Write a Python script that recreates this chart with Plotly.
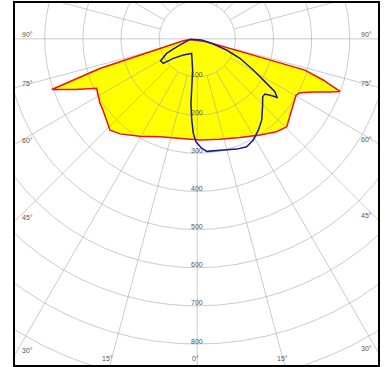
import numpy as np
import plotly.graph_objects as go

# ---- data: luminous intensity (cd) vs angle gamma (deg, 0 = straight down, + = right)
red_deg = [-84, -82.3, -74.7, -73.1, -70.8, -67.5, -63.8, -59.7, -56.6, -52.9, -48.1, -43.7,
           -39.1, -30.5, -20.9, -9.9, 1.5, 12.7, 23.4, 33.1, 40.5, 45.5, 50, 53, 58, 60.3,
           62.3, 65.4, 68.2, 69.8, 71.9, 73.8, 73.8, 72.9]
red_cd = [19, 37, 128, 267, 404, 347, 294, 301, 306, 310, 319, 331,
          321, 296, 275, 265, 265, 270, 282, 301, 320, 329, 317, 310, 302, 298,
          304, 335, 375, 399, 347, 294, 162, 26]

blue_deg = [-86.1, -69, -64.6, -59.1, -54.2, -50.9, -40.8, -21.1, -8.4, -6.7, -5.6, -3.9,
            -2.4, -0.7, 2.3, 4.8, 11.5, 19.7, 24.6, 29, 33.8, 38.4, 43.9, 48.5, 50.8, 53,
            53.6, 55.8, 57.3, 60.9, 65.5, 69.1, 72, 74.7, -86.1]
blue_cd = [19, 58, 89, 112, 110, 81, 56, 41, 83, 126, 170, 213,
           248, 270, 287, 296, 299, 307, 311, 303, 288, 272, 247, 229, 229, 249,
           261, 246, 216, 168, 123, 82, 44, 12, 19]

ring_values = [100, 200, 300, 400, 500, 600, 700, 800, 900]
ring_labels = ["100", "200", "300", "400", "500", "600", "700", "800"]
spoke_step = 15
side_angles = [90, 75, 60, 45, 30]
bottom_angles = [-15, 0, 15]

X_RANGE = [-478, 474]
Y_RANGE = [-855, 94]


def to_xy(deg, cd):
    g = np.radians(np.asarray(deg, dtype=float))
    r = np.asarray(cd, dtype=float)
    return r * np.sin(g), -r * np.cos(g)


fig = go.Figure()

# yellow fill of red curve
rx, ry = to_xy(red_deg, red_cd)
fig.add_trace(go.Scatter(x=np.append(rx, rx[0]), y=np.append(ry, ry[0]), mode="lines",
                         fill="toself", fillcolor="#FFFF00",
                         line=dict(width=0, color="rgba(0,0,0,0)"), hoverinfo="skip"))

# grid rings
t = np.linspace(0, 360, 721)
gx, gy = [], []
for rv in ring_values:
    cx, cy = to_xy(t, np.full_like(t, rv))
    gx += list(cx) + [None]
    gy += list(cy) + [None]
# spokes
for a in range(0, 360, spoke_step):
    r0 = 0 if a in (90, 270) else ring_values[0]
    sx, sy = to_xy([a, a], [r0, 1200])
    gx += list(sx) + [None]
    gy += list(sy) + [None]
fig.add_trace(go.Scatter(x=gx, y=gy, mode="lines",
                         line=dict(color="rgba(160,160,160,0.55)", width=1), hoverinfo="skip"))

# red outline
fig.add_trace(go.Scatter(x=np.append(rx, rx[0]), y=np.append(ry, ry[0]), mode="lines",
                         line=dict(color="#EE1111", width=1.5), hoverinfo="skip"))
# blue curve
bx, by = to_xy(blue_deg, blue_cd)
fig.add_trace(go.Scatter(x=bx, y=by, mode="lines",
                         line=dict(color="#1A1A9A", width=1.5), hoverinfo="skip"))

font = dict(family="Liberation Sans, Arial, sans-serif", size=7, color="#555555")
ann = []
for lab, rv in zip(ring_labels, ring_values):
    ann.append(dict(x=0, y=-rv, text=lab, showarrow=False, xanchor="center",
                    yanchor="middle", yshift=3, font=font))
for a in side_angles:
    g = np.radians(a)
    yl = X_RANGE[0] * np.cos(g) / np.sin(g)
    yr = -X_RANGE[1] * np.cos(g) / np.sin(g)
    ann.append(dict(x=X_RANGE[0], y=yl, text=f"{a}°", showarrow=False, xanchor="left",
                    yanchor="middle", xshift=5, yshift=4, font=font))
    ann.append(dict(x=X_RANGE[1], y=yr, text=f"{a}°", showarrow=False, xanchor="right",
                    yanchor="middle", xshift=-4, yshift=4, font=font))
for a in bottom_angles:
    g = np.radians(a)
    xb = -Y_RANGE[0] * np.tan(g)
    ann.append(dict(x=xb, y=Y_RANGE[0], text=f"{abs(a)}°", showarrow=False, xanchor="center",
                    yanchor="middle", xshift=-2, yshift=7, font=font))

fig.update_layout(
    width=385, height=367,
    margin=dict(l=15, r=7, t=3, b=2),
    paper_bgcolor="white", plot_bgcolor="white",
    showlegend=False,
    annotations=ann,
    xaxis=dict(range=X_RANGE, showgrid=False, zeroline=False, showticklabels=False,
               ticks="", showline=True, linecolor="black", linewidth=2, mirror=True,
               fixedrange=True),
    yaxis=dict(range=Y_RANGE, showgrid=False, zeroline=False, showticklabels=False,
               ticks="", showline=True, linecolor="black", linewidth=2, mirror=True,
               fixedrange=True),
)

fig.write_html("out.html", config={"displayModeBar": False},
               post_script="document.body.style.margin='0';document.body.style.overflow='hidden';")
